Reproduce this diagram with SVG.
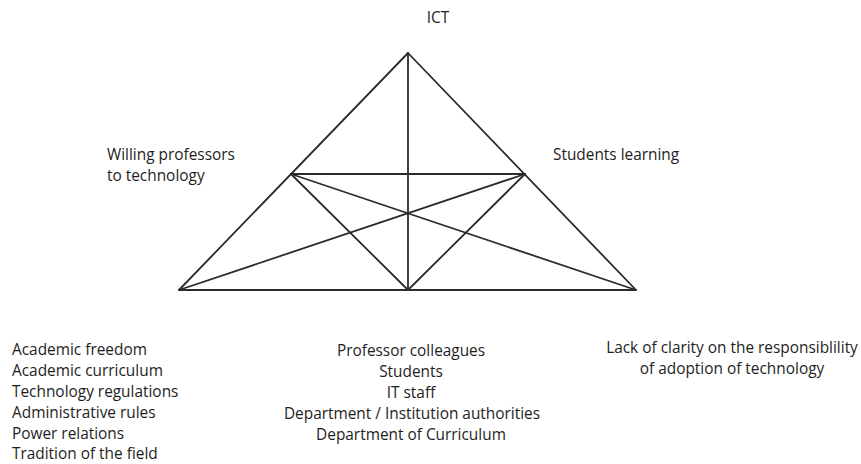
<svg xmlns="http://www.w3.org/2000/svg" width="861" height="464" viewBox="0 0 861 464">
  <style>
    .ln { stroke: #2b2b2b; stroke-width: 1.8; fill: none; stroke-linecap: round; stroke-linejoin: round; }
    .t { font-family: "Open Sans", "Noto Sans", "Liberation Sans", sans-serif; font-size: 15.4px; fill: #1e1e1e; }
    .m { text-anchor: middle; }
  </style>
  <rect width="861" height="464" fill="#ffffff"/>

  <!-- triangle framework -->
  <g id="connectors">
    <polygon class="ln" points="408,53 179,290 636,290"/>
    <line class="ln" x1="408" y1="53" x2="408" y2="290"/>
    <line class="ln" x1="291" y1="174" x2="525" y2="174"/>
    <line class="ln" x1="291" y1="174" x2="408" y2="290"/>
    <line class="ln" x1="525" y1="174" x2="408" y2="290"/>
    <line class="ln" x1="179" y1="290" x2="525" y2="174"/>
    <line class="ln" x1="636" y1="290" x2="291" y2="174"/>
  </g>

  <g id="ict">
    <text class="t m" x="438" y="22.5">ICT</text>
  </g>

  <g id="willing-professors">
    <text class="t" x="107" y="160">Willing professors</text>
    <text class="t" x="107" y="181">to technology</text>
  </g>

  <g id="students-learning">
    <text class="t" x="553" y="160">Students learning</text>
  </g>

  <g id="institutional-factors">
    <text class="t" x="12" y="355">Academic freedom</text>
    <text class="t" x="12" y="376">Academic curriculum</text>
    <text class="t" x="12" y="397">Technology regulations</text>
    <text class="t" x="12" y="418">Administrative rules</text>
    <text class="t" x="12" y="439">Power relations</text>
    <text class="t" x="12" y="459">Tradition of the field</text>
  </g>

  <g id="actors">
    <text class="t m" x="411" y="356">Professor colleagues</text>
    <text class="t m" x="411" y="377">Students</text>
    <text class="t m" x="411" y="398">IT staff</text>
    <text class="t m" x="412" y="419">Department / Institution authorities</text>
    <text class="t m" x="411" y="440">Department of Curriculum</text>
  </g>

  <g id="responsibility">
    <text class="t m" x="732" y="353">Lack of clarity on the responsiblility</text>
    <text class="t m" x="732" y="374">of adoption of technology</text>
  </g>
</svg>
